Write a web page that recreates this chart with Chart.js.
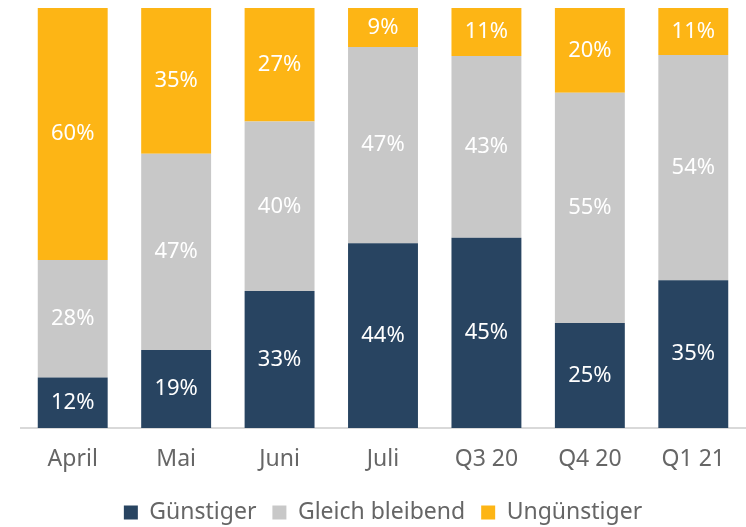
<!DOCTYPE html>
<html>
<head>
<meta charset="utf-8">
<script src="https://cdn.jsdelivr.net/npm/chart.js@4"></script>
<style>
html,body{margin:0;padding:0;background:#fff;}
#wrap{width:746px;height:527px;}
</style>
</head>
<body>
<div id="wrap"><canvas id="c" width="746" height="527"></canvas></div>
<script>
const categories = ['April', 'Mai', 'Juni', 'Juli', 'Q3 20', 'Q4 20', 'Q1 21'];
const guenstiger = [12, 18.6, 32.6, 44.0, 45.3, 25.0, 35.2];
const gleichBleibend = [28, 46.7, 40.4, 46.7, 43.3, 54.8, 53.6];
const unguenstiger = [60, 34.7, 27.0, 9.3, 11.4, 20.2, 11.2];
const seriesNames = ['Günstiger', 'Gleich bleibend', 'Ungünstiger'];
const colors = ['#284461', '#c8c8c8', '#fdb515'];

const FONT = '"Noto Sans", "Open Sans", sans-serif';

const labelPlugin = {
  id: 'barLabels',
  afterDatasetsDraw(chart) {
    const ctx = chart.ctx;
    ctx.save();
    ctx.fillStyle = '#ffffff';
    ctx.font = '22px ' + FONT;
    ctx.textAlign = 'center';
    ctx.textBaseline = 'middle';
    chart.data.datasets.forEach((ds, i) => {
      const meta = chart.getDatasetMeta(i);
      meta.data.forEach((bar, j) => {
        const v = ds.data[j];
        const p = bar.getProps(['x', 'y', 'base'], true);
        ctx.fillText(Math.round(v) + '%', p.x, (p.y + p.base) / 2);
      });
    });
    ctx.restore();
  }
};

new Chart(document.getElementById('c'), {
  type: 'bar',
  data: {
    labels: categories,
    datasets: [
      { label: seriesNames[0], data: guenstiger, backgroundColor: colors[0] },
      { label: seriesNames[1], data: gleichBleibend, backgroundColor: colors[1] },
      { label: seriesNames[2], data: unguenstiger, backgroundColor: colors[2] }
    ]
  },
  options: {
    responsive: false,
    animation: false,
    devicePixelRatio: 1,
    layout: { padding: { left: 21, right: 1, top: 8, bottom: -7 } },
    datasets: { bar: { categoryPercentage: 1, barPercentage: 0.676 } },
    scales: {
      x: {
        stacked: true,
        grid: { display: false, drawTicks: false },
        border: { display: true, color: '#d9d9d9', width: 2 },
        ticks: { color: '#666666', font: { family: FONT, size: 23 }, padding: 18 },
        afterFit: (s) => { s.height = 57; }
      },
      y: {
        stacked: true,
        display: false,
        min: 0,
        max: 100
      }
    },
    plugins: {
      legend: {
        position: 'bottom',
        labels: {
          color: '#666666',
          font: { family: FONT, size: 23 },
          boxWidth: 14,
          boxHeight: 14,
          padding: 16,
          useBorderRadius: false
        }
      },
      tooltip: { enabled: false }
    }
  },
  plugins: [labelPlugin]
});
</script>
</body>
</html>
